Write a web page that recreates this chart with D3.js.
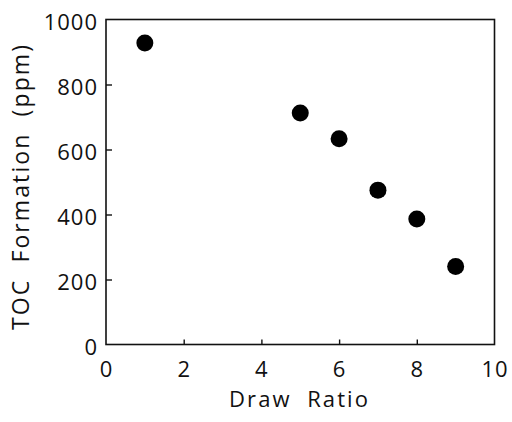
<!DOCTYPE html>
<html>
<head>
<meta charset="utf-8">
<script src="https://cdn.jsdelivr.net/npm/d3@7"></script>
<style>
  body { margin: 0; background: #fff; }
  text { font-family: "Open Sans", sans-serif; fill: #111; }
</style>
</head>
<body>
<div id="chart"></div>
<script>
// data
var drawRatio = [1, 5, 6, 7, 8, 9]
var tocPpm = [928, 712, 633, 475, 386, 240]

var xTicks = [0, 2, 4, 6, 8, 10]
var yTicks = [0, 200, 400, 600, 800, 1000]

var W = 512, H = 422
var plot = { left: 106, right: 494.5, top: 19.5, bottom: 344.5 }

var svg = d3.select("#chart")
    .append("svg")
    .attr("width", W)
    .attr("height", H)

var x = d3.scaleLinear().domain([0, 10]).range([plot.left, plot.right])
var y = d3.scaleLinear().domain([0, 1000]).range([plot.bottom, plot.top])

// frame
svg.append("rect")
    .attr("x", plot.left)
    .attr("y", plot.top)
    .attr("width", plot.right - plot.left)
    .attr("height", plot.bottom - plot.top)
    .attr("fill", "none")
    .attr("stroke", "#111")
    .attr("stroke-width", 1.6)

// bottom axis, inward ticks
var xAxis = svg.append("g")
    .attr("transform", "translate(0," + plot.bottom + ")")
    .call(d3.axisBottom(x).tickValues(xTicks).tickFormat(d3.format("d"))
        .tickSizeInner(-5).tickSizeOuter(0).tickPadding(17))
xAxis.select(".domain").remove()
xAxis.selectAll(".tick line")
    .attr("stroke", "#111")
    .attr("stroke-width", 1.4)
    .attr("display", d => (d == 0 || d == 10) ? "none" : null)
xAxis.selectAll(".tick text")
    .attr("font-size", 22)
    .attr("letter-spacing", 1)
    .attr("fill", "#111")
    .attr("font-family", "'Open Sans', sans-serif")

// left axis, inward ticks
var yAxis = svg.append("g")
    .attr("transform", "translate(" + plot.left + ",0)")
    .call(d3.axisLeft(y).tickValues(yTicks).tickFormat(d3.format("d"))
        .tickSizeInner(-6).tickSizeOuter(0).tickPadding(8))
yAxis.select(".domain").remove()
yAxis.selectAll(".tick line")
    .attr("stroke", "#111")
    .attr("stroke-width", 1.4)
    .attr("display", d => (d == 0 || d == 1000) ? "none" : null)
yAxis.selectAll(".tick text")
    .attr("font-size", 22)
    .attr("letter-spacing", 1)
    .attr("dy", "0.45em")
    .attr("fill", "#111")
    .attr("font-family", "'Open Sans', sans-serif")

// points
svg.append("g")
    .selectAll("circle")
    .data(drawRatio)
    .enter()
    .append("circle")
    .attr("cx", d => x(d))
    .attr("cy", (d, i) => y(tocPpm[i]))
    .attr("r", 8.5)
    .attr("fill", "#000")

// axis titles
svg.append("text")
    .attr("x", 229)
    .attr("y", 406.5)
    .attr("font-size", 22)
    .attr("textLength", 139)
    .attr("lengthAdjust", "spacing")
    .attr("xml:space", "preserve")
    .text("Draw  Ratio")

svg.append("text")
    .attr("transform", "translate(28.5,330) rotate(-90)")
    .attr("font-size", 23)
    .attr("textLength", 285)
    .attr("lengthAdjust", "spacing")
    .attr("xml:space", "preserve")
    .text("TOC  Formation  (ppm)")
</script>
</body>
</html>
